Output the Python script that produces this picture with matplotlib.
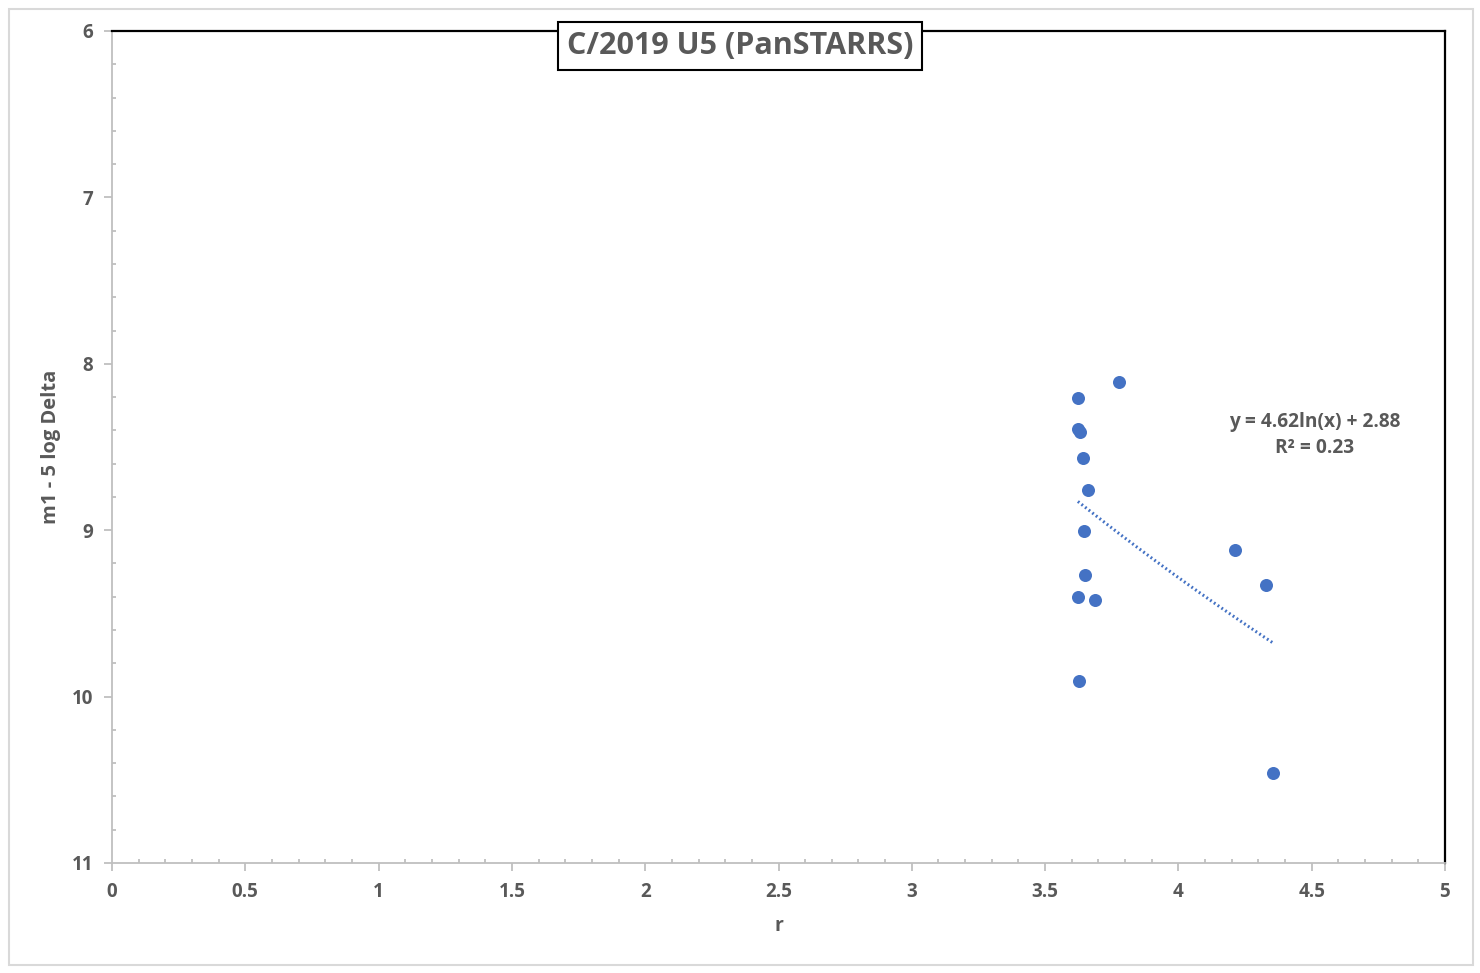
import numpy as np
import matplotlib
matplotlib.use("Agg")
import matplotlib.pyplot as plt
from matplotlib.patches import Rectangle
from matplotlib.ticker import MultipleLocator

plt.rcParams['font.family'] = ['Open Sans', 'DejaVu Sans']

# Data
r_vals = [3.777, 3.625, 3.623, 3.631, 3.643, 3.662, 3.647, 3.651, 3.625, 3.688, 3.628, 4.213, 4.330, 4.355]
mag_vals = [8.111, 8.207, 8.392, 8.410, 8.568, 8.760, 9.007, 9.271, 9.403, 9.420, 9.908, 9.121, 9.331, 10.459]
fit_slope = 4.62
fit_intercept = 2.88
r_squared = 0.23
title = "C/2019 U5 (PanSTARRS)"
x_label = "r"
y_label = "m1 - 5 log Delta"
x_ticks = [0, 0.5, 1, 1.5, 2, 2.5, 3, 3.5, 4, 4.5, 5]
x_tick_labels = ["0", "0.5", "1", "1.5", "2", "2.5", "3", "3.5", "4", "4.5", "5"]
y_ticks = [6, 7, 8, 9, 10, 11]
y_tick_labels = ["6", "7", "8", "9", "10", "11"]

W, H = 1480, 973
fig = plt.figure(figsize=(W / 100, H / 100), dpi=100)
fig.patch.set_facecolor('white')

# outer chart border
fig.patches.append(Rectangle((9 / W, 1 - 965 / H), (1473 - 9) / W, (965 - 9) / H,
                             transform=fig.transFigure, fill=False,
                             edgecolor='#d9d9d9', linewidth=1.5))

ax = fig.add_axes([112 / W, 1 - 863 / H, (1445 - 112) / W, (863 - 31) / H])

blue = '#4472C4'
grey_txt = '#595959'
grey_ax = '#bfbfbf'

ax.scatter(r_vals, mag_vals, s=88, color=blue, zorder=3, linewidths=0)

xs = np.linspace(min(r_vals), max(r_vals), 200)
ax.plot(xs, fit_slope * np.log(xs) + fit_intercept, color=blue, lw=2.2,
        linestyle=(0, (0.6, 0.9)), dash_capstyle='butt', zorder=2)

ax.set_xlim(0, 5)
ax.set_ylim(11, 6)

ax.set_xticks(x_ticks)
ax.set_xticklabels(x_tick_labels)
ax.set_yticks(y_ticks)
ax.set_yticklabels(y_tick_labels)
ax.xaxis.set_minor_locator(MultipleLocator(0.1))
ax.yaxis.set_minor_locator(MultipleLocator(0.2))

for s in ['left', 'bottom']:
    ax.spines[s].set_color(grey_ax)
    ax.spines[s].set_linewidth(1.3)
for s in ['top', 'right']:
    ax.spines[s].set_color('black')
    ax.spines[s].set_linewidth(1.6)

ax.tick_params(axis='both', which='major', direction='out', length=5.5, width=1.3,
               color=grey_ax, labelsize=13.5, labelcolor=grey_txt, pad=8)
ax.tick_params(axis='x', which='major', pad=8.5)
ax.tick_params(axis='both', which='minor', direction='in', length=3, width=1.3, color=grey_ax)
for lab in ax.get_xticklabels() + ax.get_yticklabels():
    lab.set_fontweight('bold')

ax.set_xlabel(x_label, fontsize=14, fontweight='bold', color=grey_txt)
ax.set_ylabel(y_label, fontsize=14.5, fontweight='bold', color=grey_txt)
ax.xaxis.set_label_coords(0.5, -(926 - 863) / 832, transform=ax.transAxes)
ax.xaxis.label.set_va('center')
ax.yaxis.set_label_coords(-(112 - 51) / 1333, 0.5, transform=ax.transAxes)
ax.yaxis.label.set_va('center')

# title with box
fig.text(740 / W, 1 - 46 / H, title, ha='center', va='center', fontsize=22,
         fontweight='bold', color=grey_txt,
         bbox=dict(boxstyle='square,pad=0.3', facecolor='white', edgecolor='black', linewidth=1.5))

ax.text(4.512, 8.43, f"y = {fit_slope:.2f}ln(x) + {fit_intercept:.2f}\nR² = {r_squared:.2f}",
        ha='center', va='center', fontsize=13.8, fontweight='bold', color=grey_txt,
        linespacing=1.4)

fig.savefig('out.png', dpi=100, facecolor='white')
